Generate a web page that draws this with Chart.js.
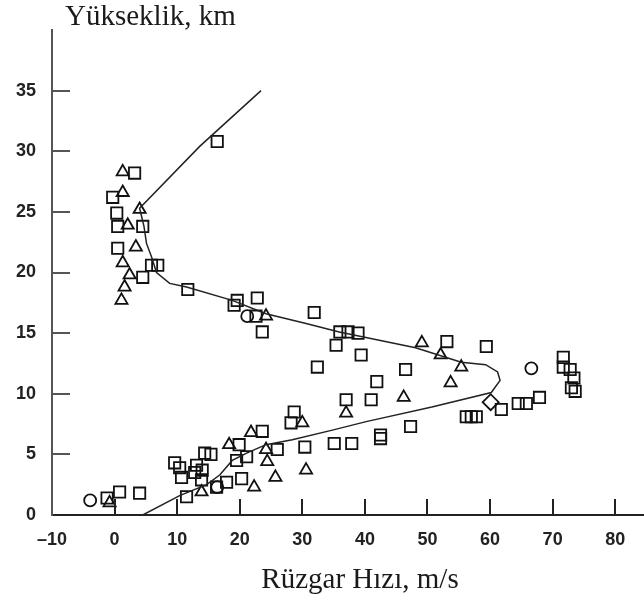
<!DOCTYPE html>
<html>
<head>
<meta charset="utf-8">
<script src="https://cdn.jsdelivr.net/npm/chart.js@4.4.0/dist/chart.umd.min.js"></script>
<style>
  html, body { margin: 0; padding: 0; background: #fff; overflow: hidden; }
  #windChart { display: block; }
</style>
</head>
<body>
<canvas id="windChart" width="644" height="601"></canvas>
<script>
// axis ticks
const xTicks = [-10, 0, 10, 20, 30, 40, 50, 60, 70, 80];
const yTicks = [0, 5, 10, 15, 20, 25, 30, 35];

// fitted profile (wind speed m/s, height km)
const lineX = [23.4, 13.6, 4.0, 4.7, 5.1, 5.9, 6.7, 8.8, 11.5, 18.8, 24.2, 30.6, 35.9, 48.1, 55.4, 59.3, 61.2, 61.6, 60.2, 50.7, 40.2, 34.8, 28.4, 24.2, 21.1, 18.8, 16.8, 14.7, 10.4, 4.5];
const lineY = [35.0, 30.4, 25.3, 23.8, 22.4, 21.3, 20.0, 19.1, 18.8, 17.7, 16.6, 15.8, 15.1, 13.8, 12.6, 12.4, 11.8, 11.1, 10.1, 8.9, 7.7, 7.0, 6.2, 5.8, 5.1, 4.5, 3.3, 2.5, 1.6, 0.0];

// square markers
const squareX = [16.4, 3.2, -0.3, 0.35, 0.5, 4.5, 0.5, 5.9, 6.9, 4.5, 11.7, 19.6, 19.1, 22.8, 22.6, 23.6, 31.9, 36.0, 37.3, 38.9, 35.4, 39.4, 32.4, 46.5, 53.1, 59.4, 41.9, 41.0, 37.0, 28.7, 28.2, 47.3, 42.5, 42.5, 35.1, 37.9, 30.4, 56.2, 57.0, 57.8, 61.8, 64.5, 65.8, 67.9, 71.7, 71.7, 72.8, 73.4, 73.0, 73.6, -1.2, 0.8, 4.0, 9.6, 10.4, 10.7, 13.1, 14.0, 14.4, 15.4, 11.5, 12.8, 13.9, 16.3, 17.9, 20.3, 19.9, 23.6, 21.1, 19.5, 26.0];
const squareY = [30.8, 28.2, 26.2, 24.9, 23.8, 23.8, 22.0, 20.6, 20.6, 19.6, 18.6, 17.7, 17.3, 17.9, 16.4, 15.1, 16.7, 15.1, 15.1, 15.0, 14.0, 13.2, 12.2, 12.0, 14.3, 13.9, 11.0, 9.5, 9.5, 8.5, 7.6, 7.3, 6.6, 6.3, 5.9, 5.9, 5.6, 8.1, 8.1, 8.1, 8.7, 9.2, 9.2, 9.7, 13.0, 12.2, 12.0, 11.3, 10.5, 10.2, 1.4, 1.9, 1.8, 4.3, 3.9, 3.1, 4.1, 3.7, 5.1, 5.0, 1.5, 3.5, 2.9, 2.3, 2.7, 3.0, 5.8, 6.9, 4.8, 4.5, 5.4];

// triangle markers
const triangleX = [1.3, 1.3, 4.0, 2.1, 3.4, 1.3, 2.4, 1.6, 1.1, 24.2, 49.1, 52.1, 55.4, 53.7, 46.2, 37.0, 30.0, 30.6, -0.8, 13.9, 22.3, 18.3, 21.8, 24.2, 24.4, 25.7];
const triangleY = [28.3, 26.6, 25.2, 23.9, 22.1, 20.8, 19.8, 18.8, 17.7, 16.4, 14.2, 13.2, 12.2, 10.9, 9.7, 8.4, 7.6, 3.7, 1.0, 1.9, 2.3, 5.8, 6.8, 5.4, 4.4, 3.1];

// round markers
const circleX = [21.2, 66.6, -3.9, 16.4];
const circleY = [16.4, 12.1, 1.2, 2.3];

// diamond marker
const diamondX = [60.1];
const diamondY = [9.3];

function toPoints(xs, ys) {
    return xs.map((x, i) => ({ x: x, y: ys[i] }));
}

const tickFont = { family: '"Liberation Sans", Arial, sans-serif', size: 18, weight: 'bold' };

// tick marks pointing into the plot
const innerTicks = {
    id: 'innerTicks',
    afterDraw(chart) {
        const { ctx, scales: { x, y } } = chart;
        ctx.save();
        ctx.lineWidth = 2;
        ctx.strokeStyle = '#222';
        xTicks.slice(1).forEach(v => {
            const px = Math.round(x.getPixelForValue(v));
            ctx.beginPath();
            ctx.moveTo(px, y.bottom);
            ctx.lineTo(px, y.bottom - 16);
            ctx.stroke();
        });
        ctx.strokeStyle = '#555';
        yTicks.slice(1).forEach(v => {
            const py = Math.round(y.getPixelForValue(v));
            ctx.beginPath();
            ctx.moveTo(x.left, py);
            ctx.lineTo(x.left + 18, py);
            ctx.stroke();
        });
        ctx.restore();
    }
};

// axis titles
const axisTitles = {
    id: 'axisTitles',
    afterDraw(chart) {
        const { ctx, chartArea } = chart;
        ctx.save();
        ctx.fillStyle = '#1a1a1a';
        ctx.font = '29px "Liberation Serif", "Times New Roman", serif';
        ctx.textAlign = 'left';
        ctx.fillText('Yükseklik, km', chartArea.left + 13, 25);
        ctx.textAlign = 'center';
        ctx.fillText('Rüzgar Hızı, m/s', chartArea.left + 308, 588);
        ctx.restore();
    }
};

document.addEventListener('DOMContentLoaded', function () {
    const ctx = document.getElementById('windChart').getContext('2d');
    const markerBase = {
        backgroundColor: 'rgba(0,0,0,0)',
        borderColor: '#111',
        borderWidth: 1.8,
        showLine: false,
    };
    new Chart(ctx, {
        type: 'scatter',
        data: {
            datasets: [
                {
                    label: 'profile',
                    data: toPoints(lineX, lineY),
                    showLine: true,
                    borderColor: '#222',
                    borderWidth: 1.5,
                    pointRadius: 0,
                    fill: false,
                },
                Object.assign({ label: 'squares', data: toPoints(squareX, squareY), pointStyle: 'rect', pointRadius: 8 }, markerBase),
                Object.assign({ label: 'triangles', data: toPoints(triangleX, triangleY), pointStyle: 'triangle', pointRadius: 7 }, markerBase),
                Object.assign({ label: 'circles', data: toPoints(circleX, circleY), pointStyle: 'circle', pointRadius: 6 }, markerBase),
                Object.assign({ label: 'diamonds', data: toPoints(diamondX, diamondY), pointStyle: 'rectRot', pointRadius: 8 }, markerBase),
            ],
        },
        options: {
            responsive: false,
            animation: false,
            layout: { autoPadding: false, padding: { top: 30, right: 0, left: 0, bottom: 0 } },
            plugins: {
                legend: { display: false },
                tooltip: { enabled: false },
            },
            scales: {
                x: {
                    type: 'linear',
                    min: -10,
                    max: 84.6,
                    afterBuildTicks: (axis) => { axis.ticks = xTicks.map(v => ({ value: v })); },
                    afterFit: (axis) => {
                        axis.height = 86;
                        axis.paddingLeft = 0;
                        axis.paddingRight = 0;
                    },
                    grid: { display: false, drawTicks: false },
                    border: { display: true, color: '#222', width: 2 },
                    ticks: {
                        color: '#222',
                        font: tickFont,
                        padding: 14,
                        maxRotation: 0,
                        autoSkip: false,
                        callback: (v) => (v < 0 ? '\u2013' + Math.abs(v) : String(v)),
                    },
                },
                y: {
                    type: 'linear',
                    min: 0,
                    max: 40,
                    afterBuildTicks: (axis) => { axis.ticks = yTicks.map(v => ({ value: v })); },
                    afterFit: (axis) => {
                        axis.width = 52;
                        axis.paddingTop = 0;
                        axis.paddingBottom = 0;
                    },
                    grid: { display: false, drawTicks: false },
                    border: { display: true, color: '#555', width: 2 },
                    ticks: {
                        color: '#222',
                        font: tickFont,
                        padding: 16,
                        autoSkip: false,
                    },
                },
            },
        },
        plugins: [innerTicks, axisTitles],
    });
});
</script>
</body>
</html>
